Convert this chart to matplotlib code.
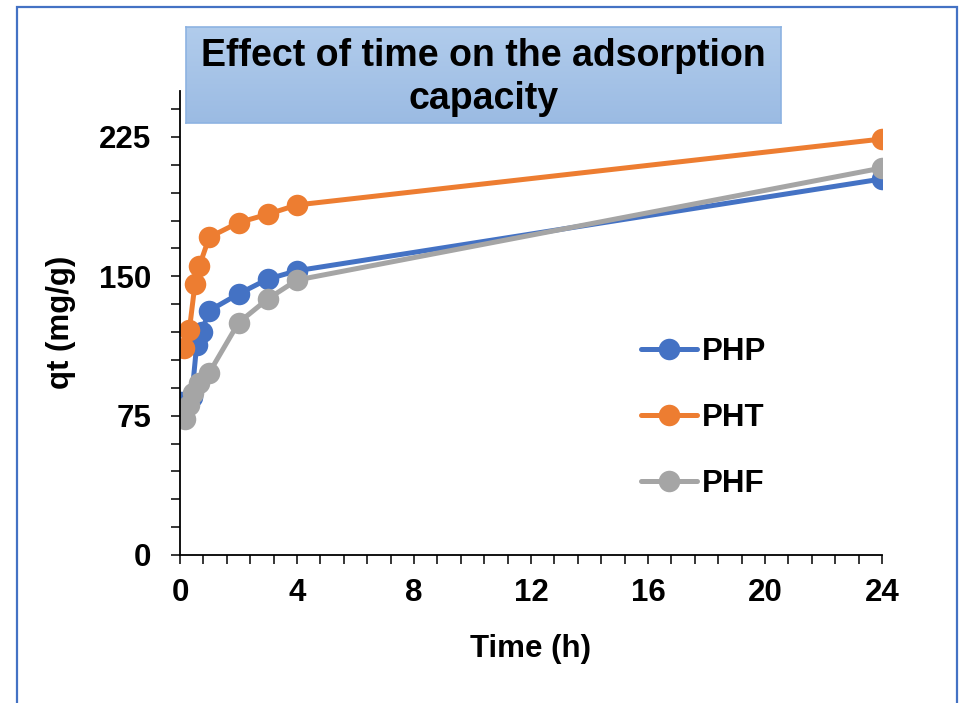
import numpy as np
import matplotlib
matplotlib.use("Agg")
import matplotlib.pyplot as plt
from matplotlib.patches import Rectangle
from matplotlib.colors import LinearSegmentedColormap

plt.rcParams['font.family'] = ['Liberation Sans', 'DejaVu Sans']

# ---- data ----
php_t = [0.03, 0.4, 0.57, 0.74, 1, 2, 3, 4, 24]
php_q = [82.5, 85, 113, 120.2, 131.5, 140.5, 148.5, 153.0, 202.4]
pht_t = [0.14, 0.32, 0.51, 0.66, 1, 2, 3, 4, 24]
pht_q = [111.2, 121.1, 145.7, 155.5, 171.0, 178.9, 183.4, 188.4, 223.9]
phf_t = [0.17, 0.32, 0.45, 0.66, 1, 2, 3, 4, 24]
phf_q = [73.0, 80.7, 87.0, 92.4, 98.1, 125.0, 137.8, 148.0, 208.3]

series = ["PHP", "PHT", "PHF"]
colors = ["#4472C4", "#ED7D31", "#A5A5A5"]
x_ticks = [0, 4, 8, 12, 16, 20, 24]
y_ticks = [0, 75, 150, 225]
title = "Effect of time on the adsorption\ncapacity"
xlabel = "Time (h)"
ylabel = "qt (mg/g)"

W, H = 962, 703
fig = plt.figure(figsize=(W / 100, H / 100), dpi=100)

# outer blue border
fig.patches.append(Rectangle((17 / W, -0.05), (957 - 17) / W, 1.05 - 7 / H,
                             transform=fig.transFigure, fill=False,
                             edgecolor="#4472C4", linewidth=1.6, zorder=0))

ax = fig.add_axes([180 / W, 1 - 555 / H, (882 - 180) / W, (555 - 90.5) / H])

data = [(php_t, php_q), (pht_t, pht_q), (phf_t, phf_q)]
for (t, q), name, c in zip(data, series, colors):
    ax.plot(t, q, color=c, lw=3.6, marker="o", markersize=15.5,
            markeredgewidth=0, label=name, solid_capstyle="round")

ax.set_xlim(0, 24)
ax.set_ylim(0, 250)
ax.set_xticks(x_ticks)
ax.set_xticks(np.arange(0, 24.01, 0.8), minor=True)
ax.set_yticks(y_ticks)
ax.set_yticks(np.arange(0, 250.01, 15), minor=True)
for lab in ax.get_xticklabels() + ax.get_yticklabels():
    lab.set_fontweight("bold")
ax.tick_params(which="both", direction="out", length=6.5, width=1.1, color="black")
ax.tick_params(axis="both", which="major", labelsize=22.5)
ax.tick_params(axis="x", which="major", pad=10)
ax.tick_params(axis="y", which="major", pad=14)
ax.spines["top"].set_visible(False)
ax.spines["right"].set_visible(False)
ax.spines["left"].set_linewidth(1.3)
ax.spines["bottom"].set_linewidth(1.3)
ax.set_xlabel(xlabel, fontsize=22.5, fontweight="bold", labelpad=19)
ax.set_ylabel(ylabel, fontsize=22.5, fontweight="bold", labelpad=17)

leg = ax.legend(loc="center left", bbox_to_anchor=(641 / W, 1 - 418 / H),
                bbox_transform=fig.transFigure, frameon=False,
                prop={"weight": "bold", "size": 22.5},
                handlelength=1.8, handletextpad=0.15, labelspacing=1.15,
                borderpad=0, borderaxespad=0, markerscale=1.0)

# title box with gradient
tax = fig.add_axes([186 / W, 1 - 123 / H, (781 - 186) / W, (123 - 27) / H])
grad = np.linspace(0, 1, 100).reshape(-1, 1)
cmap = LinearSegmentedColormap.from_list("g", ["#B1CCEC", "#9BBBE3"])
tax.imshow(grad, aspect="auto", cmap=cmap, extent=[0, 1, 0, 1], origin="upper")
tax.set_xticks([])
tax.set_yticks([])
for s in tax.spines.values():
    s.set_edgecolor("#8DB3E2")
    s.set_linewidth(1.2)
tax.text(0.5, 0.47, title, ha="center", va="center", fontsize=27,
         fontweight="bold", linespacing=1.25, transform=tax.transAxes)

fig.savefig("out.png", dpi=100)
